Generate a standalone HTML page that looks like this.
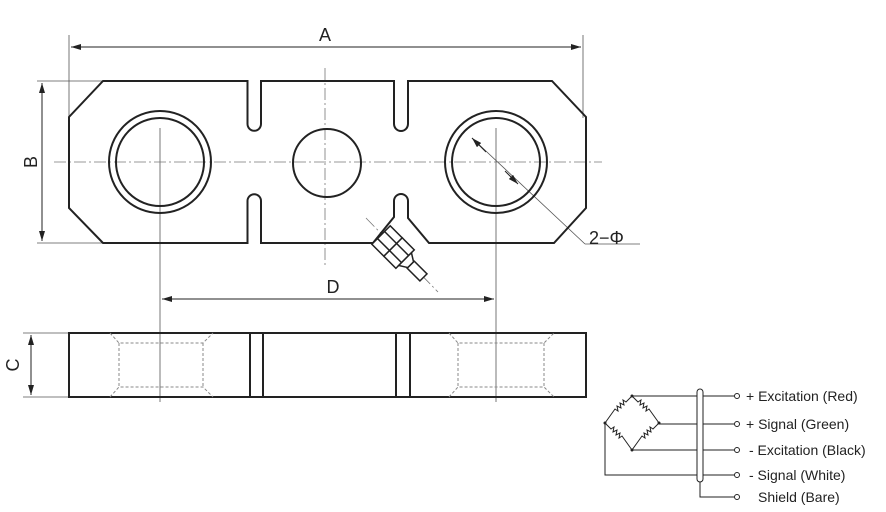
<!DOCTYPE html>
<html><head><meta charset="utf-8"><style>body{margin:0;background:#fff}svg{display:block}text{font-family:"Liberation Sans",sans-serif}</style></head><body>
<svg width="886" height="512" viewBox="0 0 886 512" xmlns="http://www.w3.org/2000/svg">
<defs>
<marker id="ar" viewBox="0 0 10 6" refX="10" refY="3" markerWidth="10" markerHeight="6" orient="auto-start-reverse" markerUnits="userSpaceOnUse"><path d="M0,0L10,3L0,6z" fill="#222"/></marker>
</defs>
<g stroke="#555" stroke-width="0.8" fill="none">
<line x1="69" y1="35" x2="69" y2="118"/><line x1="583" y1="35" x2="583" y2="118"/>
<line x1="37" y1="81" x2="104" y2="81"/><line x1="37" y1="243" x2="104" y2="243"/>
<line x1="160" y1="128" x2="160" y2="402"/><line x1="496" y1="128" x2="496" y2="402"/>
<line x1="23" y1="333" x2="69" y2="333"/><line x1="23" y1="397" x2="69" y2="397"/>
<line x1="472" y1="138" x2="585" y2="244"/><line x1="585" y1="244" x2="640" y2="244"/>
</g>
<g stroke="#222" stroke-width="1" fill="none">
<line x1="71" y1="47" x2="581" y2="47" marker-start="url(#ar)" marker-end="url(#ar)"/>
<line x1="42" y1="83" x2="42" y2="241" marker-start="url(#ar)" marker-end="url(#ar)"/>
<line x1="162" y1="299" x2="494" y2="299" marker-start="url(#ar)" marker-end="url(#ar)"/>
<line x1="31" y1="335" x2="31" y2="395" marker-start="url(#ar)" marker-end="url(#ar)"/>
<line x1="472" y1="138" x2="486" y2="152" marker-start="url(#ar)"/>
<line x1="505" y1="171" x2="518" y2="184" marker-end="url(#ar)"/>
</g>
<g stroke="#777" stroke-width="0.8" fill="none" stroke-dasharray="12,3,2,3">
<line x1="54" y1="162" x2="602" y2="162"/>
<line x1="325" y1="68" x2="325" y2="265"/>
<line x1="366" y1="218" x2="438" y2="292"/>
</g>
<g stroke="#222" stroke-width="2" fill="none">
<path d="M103,81 H247.5 V124 A6.7,6.7 0 0 0 261,124 V81 H394 V124 A7,7 0 0 0 408,124 V81 H552 L586,117 V208 L554,243 H429 L408,218 V201 A7,7 0 0 0 394,201 V217 L373,243 H261 V201 A6.7,6.7 0 0 0 247.5,201 V243 H103 L69,208 V117 Z"/>
<circle cx="160" cy="162" r="51"/><circle cx="160" cy="162" r="44"/>
<circle cx="496" cy="162" r="51"/><circle cx="496" cy="162" r="44"/>
<circle cx="327" cy="163" r="34"/>
</g>
<g transform="translate(398,252) rotate(45)" stroke="#222" stroke-width="1.5" fill="#fff">
<rect x="-24" y="-13" width="17" height="26"/>
<line x1="-24" y1="-5" x2="-7" y2="-5"/><line x1="-24" y1="5" x2="-7" y2="5"/>
<rect x="-7" y="-13" width="17" height="26"/>
<line x1="-7" y1="-5" x2="10" y2="-5"/><line x1="-7" y1="5" x2="10" y2="5"/>
<path d="M10,-9 L18,-4 V4 L10,9 Z"/>
<rect x="18" y="-5" width="18" height="10"/>
</g>
<g stroke="#222" stroke-width="2" fill="none">
<rect x="69" y="333" width="517" height="64"/>
<line x1="250" y1="333" x2="250" y2="397"/><line x1="263" y1="333" x2="263" y2="397"/>
<line x1="396" y1="333" x2="396" y2="397"/><line x1="410" y1="333" x2="410" y2="397"/>
</g>
<g stroke="#888" stroke-width="1" fill="none" stroke-dasharray="3,2">
<path d="M110,333 L119,343 H203 L213,333 M110,397 L119,387 H203 L213,397 M119,343 V387 M203,343 V387"/>
<path d="M449,333 L458,343 H544 L554,333 M449,397 L458,387 H544 L554,397 M458,343 V387 M544,343 V387"/>
</g>
<g fill="#222" font-size="18">
<text x="325" y="41" text-anchor="middle">A</text>
<text x="333" y="293" text-anchor="middle">D</text>
<text x="589" y="244">2−Φ</text>
<text transform="translate(37,162) rotate(-90)" text-anchor="middle">B</text>
<text transform="translate(19,365) rotate(-90)" text-anchor="middle">C</text>
</g>
<g stroke="#222" stroke-width="1" fill="none">
<path d="M632,396 L626,402 l-3,-2 l1,5 l-4,-2 l1,5 l-4,-2 l1,5 l-3,-2 L605,423"/>
<path d="M632,396 L638,402 l3,-2 l-1,5 l4,-2 l-1,5 l4,-2 l-1,5 l3,-2 L659,423"/>
<path d="M605,423 L611,429 l3,-2 l-1,5 l4,-2 l-1,5 l4,-2 l-1,5 l3,-2 L632,450"/>
<path d="M659,423 L653,429 l-3,-2 l1,5 l-4,-2 l1,5 l-4,-2 l1,5 l-3,-2 L632,450"/>
<line x1="632" y1="396" x2="734" y2="396"/>
<line x1="659" y1="424" x2="734" y2="424"/>
<line x1="632" y1="450" x2="734" y2="450"/>
<path d="M605,423 V475 H734"/>
<path d="M700,482 V497 H734"/>
<rect x="697" y="389" width="6" height="93" rx="3" fill="#fff"/>
<circle cx="737" cy="396" r="2.5"/><circle cx="737" cy="424" r="2.5"/><circle cx="737" cy="450" r="2.5"/><circle cx="737" cy="475" r="2.5"/><circle cx="737" cy="497" r="2.5"/>
</g>
<g fill="#222"><circle cx="632" cy="396" r="1.5"/><circle cx="605" cy="423" r="1.5"/><circle cx="659" cy="423" r="1.5"/><circle cx="632" cy="450" r="1.5"/></g>
<g fill="#222" font-size="14">
<text x="746" y="401">+ Excitation (Red)</text>
<text x="746" y="429">+ Signal (Green)</text>
<text x="749" y="455">- Excitation (Black)</text>
<text x="749" y="480">- Signal (White)</text>
<text x="758" y="502">Shield (Bare)</text>
</g>
</svg>
</body></html>
